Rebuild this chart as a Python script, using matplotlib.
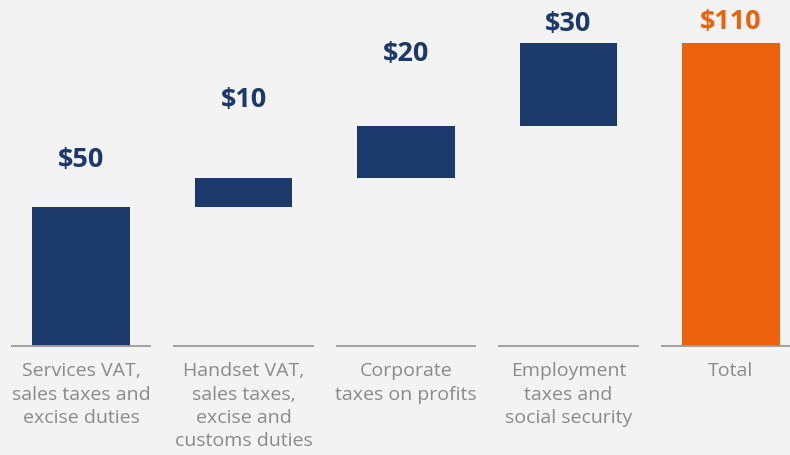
import numpy as np
import matplotlib.pyplot as plt

# data
categories = ['Services VAT,\nsales taxes and\nexcise duties',
              'Handset VAT,\nsales taxes,\nexcise and\ncustoms duties',
              'Corporate\ntaxes on profits',
              'Employment\ntaxes and\nsocial security',
              'Total']
steps = [50.4, 10.5, 18.9, 30.3]
total = 110.0
value_labels = ['$50', '$10', '$20', '$30', '$110']

navy = '#1b3a6b'
orange = '#ec610c'
bg = '#f3f3f3'
grey_text = '#8a8a8a'

px_per_unit = 2.75
base_px = 345.5  # baseline, pixels from top

fig = plt.figure(figsize=(7.9, 4.55), dpi=100, facecolor=bg)
ax = fig.add_axes([0, 0, 1, 1])
ax.set_facecolor(bg)

x = np.arange(len(categories))
bottoms = np.concatenate([[0], np.cumsum(steps)[:-1]])

ax.bar(x[:-1], steps, bottom=bottoms, width=0.597, color=navy)
ax.bar(x[-1], total, width=0.597, color=orange)

# baseline segments under each category
ax.hlines(np.zeros(len(x)), x - 0.431, x + 0.431, color='#9a9a9a', lw=1.3)

def py(p):
    # pixel row from top -> data y
    return (base_px - p) / px_per_unit

label_rows = [160, 100, 54, 24, 22]
for i, (lab, row) in enumerate(zip(value_labels, label_rows)):
    ax.text(x[i], py(row), lab, ha='center', va='center',
            fontsize=19.5, fontweight='bold', family='Open Sans',
            color=orange if i == len(x) - 1 else navy)

for i, cat in enumerate(categories):
    ax.text(x[i], py(362.5), cat, ha='center', va='top', fontsize=14,
            family='Open Sans', color=grey_text, linespacing=1.37)

ax.set_xlim(-81 / 162.5, (790 - 81) / 162.5)
ax.set_ylim(py(455), py(0))
ax.axis('off')

fig.savefig('out.png', dpi=100, facecolor=bg)
